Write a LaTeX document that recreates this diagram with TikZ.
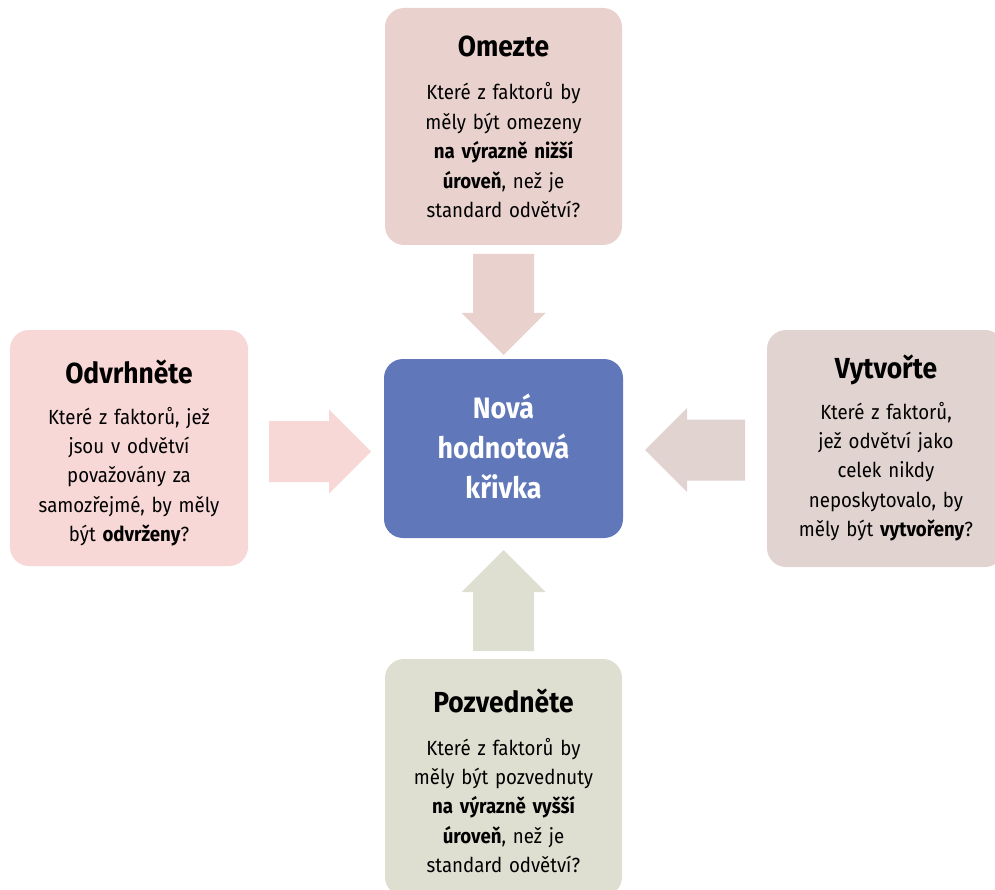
\documentclass[tikz,border=0pt]{standalone}
\usepackage{fontspec}
\setmainfont[FakeStretch=0.91]{Fira Sans}
\definecolor{cTop}{HTML}{E9D2CD}
\definecolor{cLeft}{HTML}{F8D8D6}
\definecolor{cRight}{HTML}{E1D3CF}
\definecolor{cBottom}{HTML}{DFDFD1}
\definecolor{cMid}{HTML}{6078BA}
\tikzset{
  card/.style={rounded corners=19pt, inner sep=0pt, draw=none},
  cardtitle/.style={inner sep=0pt, anchor=base, font=\fontsize{29}{32}\selectfont\bfseries},
  cardbody/.style={inner sep=0pt, anchor=base, text width=236pt, align=center,
    font=\fontsize{20.5}{29.4}\selectfont},
  midtext/.style={inner sep=0pt, anchor=base, text width=230pt, align=center, text=white,
    font=\fontsize{29.5}{40}\selectfont\bfseries},
}
% block arrow: tail at the origin, pointing along +x
\newcommand\blockarrow[4]{% colour, tail point, rotation, length
  \fill[#1, shift={#2}, rotate=#3]
    (0,-30.5) -- ({#4-42},-30.5) -- ({#4-42},-42) -- (#4,0)
    -- ({#4-42},42) -- ({#4-42},30.5) -- (0,30.5) -- cycle;}
\begin{document}
\begin{tikzpicture}[x=1pt, y=-1pt]
\useasboundingbox (0,0) rectangle (995,890);

% cards
\node[card, fill=cTop, minimum width=237pt, minimum height=237pt] (top) at (503.5,126.5) {};
\node[card, fill=cLeft, minimum width=238pt, minimum height=236pt] (left) at (129,448) {};
\node[card, fill=cRight, minimum width=237pt, minimum height=237pt] (right) at (885.5,448.5) {};
\node[card, fill=cBottom, minimum width=237pt, minimum height=237pt] (bottom) at (503.5,777.5) {};
\node[card, fill=cMid, minimum width=239pt, minimum height=179pt] (mid) at (503.5,448.5) {};

% arrows into the centre
\blockarrow{cTop}{(503.5,254)}{-90}{101}
\blockarrow{cBottom}{(503.5,651)}{90}{101}
\blockarrow{cLeft}{(269,451.5)}{0}{102}
\blockarrow{cRight}{(745,450)}{180}{100}

% texts
\node[cardtitle] (ttop) at (503.5,57) {Omezte};
\node[cardbody] (btop) at (503.5,100) {Které z faktorů by\\měly být omezeny\\\textbf{na výrazně nižší}\\\textbf{úroveň}, než je\\standard odvětví?};

\node[cardtitle] (tleft) at (129,383) {Odvrhněte};
\node[cardbody] (bleft) at (129,424) {Které z faktorů, jež\\jsou v odvětví\\považovány za\\samozřejmé, by měly\\být \textbf{odvrženy}?};

\node[cardtitle] (tright) at (886,378) {Vytvořte};
\node[cardbody] (bright) at (886,419) {Které z faktorů,\\jež odvětví jako\\celek nikdy\\neposkytovalo, by\\měly být \textbf{vytvořeny}?};

\node[cardtitle] (tbottom) at (503.5,712) {Pozvedněte};
\node[cardbody] (bbottom) at (503.5,755) {Které z faktorů by\\měly být pozvednuty\\\textbf{na výrazně vyšší}\\\textbf{úroveň}, než je\\standard odvětví?};

\node[midtext] (tmid) at (503.5,418) {Nová\\hodnotová\\křivka};
\end{tikzpicture}
\end{document}
